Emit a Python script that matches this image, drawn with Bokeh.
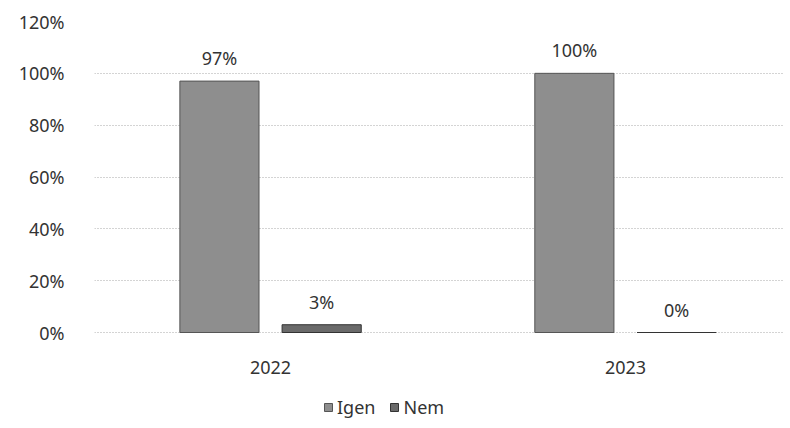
from bokeh.plotting import figure
from bokeh.models import ColumnDataSource, Range1d, FixedTicker, Legend, LegendItem, LabelSet
from bokeh.core.properties import value
from bokeh.transform import dodge
from bokeh.embed import file_html
from bokeh.resources import INLINE

years = ["2022", "2023"]
year_pos = [0, 1]
igen = [97, 100]
nem = [3, 0]
y_ticks = [0, 20, 40, 60, 80, 100, 120]

src = ColumnDataSource(dict(
    x=year_pos,
    igen=igen,
    nem=nem,
    igen_lbl=[f"{v}%" for v in igen],
    nem_lbl=[f"{v}%" for v in nem],
))

FONT = "Noto Sans"
TXT = "#333333"
FS = "18px"

# frame extends below the 0% line so that the year labels and legend sit inside it
p = figure(frame_width=690, frame_height=400, output_backend="svg", toolbar_location=None,
           x_range=Range1d(-0.496, 1.448), y_range=Range1d(-34.34, 120),
           min_border_left=94, min_border_top=21, min_border_right=0, min_border_bottom=0)
p.outline_line_color = None

bw = 0.223
off = 0.144
r1 = p.vbar(x=dodge("x", -off), top="igen", bottom=0, width=bw, source=src,
            fill_color="#8e8e8e", line_color="#555555", line_width=1)
r2 = p.vbar(x=dodge("x", off), top="nem", bottom=0, width=bw, source=src,
            fill_color="#6a6a6a", line_color="#333333", line_width=1)

for col, lbl, o in (("igen", "igen_lbl", -off), ("nem", "nem_lbl", off)):
    ls = LabelSet(x=dodge("x", o), y=col, text=lbl, source=src,
                  text_align="center", text_baseline="bottom", y_offset=11,
                  text_font=value(FONT), text_font_size=value(FS), text_color=TXT)
    p.add_layout(ls)

p.xaxis.fixed_location = 0
p.xaxis.ticker = FixedTicker(ticks=year_pos)
p.xaxis.major_label_overrides = {pos: yr for pos, yr in zip(year_pos, years)}
p.yaxis.ticker = FixedTicker(ticks=y_ticks)
p.yaxis.major_label_overrides = {t: f"{t}%" for t in y_ticks}
for ax in (p.xaxis[0], p.yaxis[0]):
    ax.axis_line_color = None
    ax.major_tick_line_color = None
    ax.minor_tick_line_color = None
    ax.major_label_text_font = FONT
    ax.major_label_text_font_size = FS
    ax.major_label_text_color = TXT
p.yaxis.major_label_standoff = 24
p.xaxis.major_label_standoff = 22

p.xgrid.grid_line_color = None
p.ygrid.grid_line_color = "#a8a8a8"
p.ygrid.grid_line_dash = "1 2"
p.ygrid.grid_line_width = 1

legend = Legend(items=[LegendItem(label="Igen", renderers=[r1]),
                       LegendItem(label="Nem", renderers=[r2])],
                orientation="horizontal", location=(229, 2),
                label_text_font=FONT, label_text_font_size=FS, label_text_color=TXT,
                glyph_width=10, glyph_height=10, spacing=14, label_standoff=4,
                border_line_color=None, background_fill_alpha=0, margin=0, padding=0)
p.add_layout(legend, "center")

open("out.html", "w").write(file_html(p, INLINE))
